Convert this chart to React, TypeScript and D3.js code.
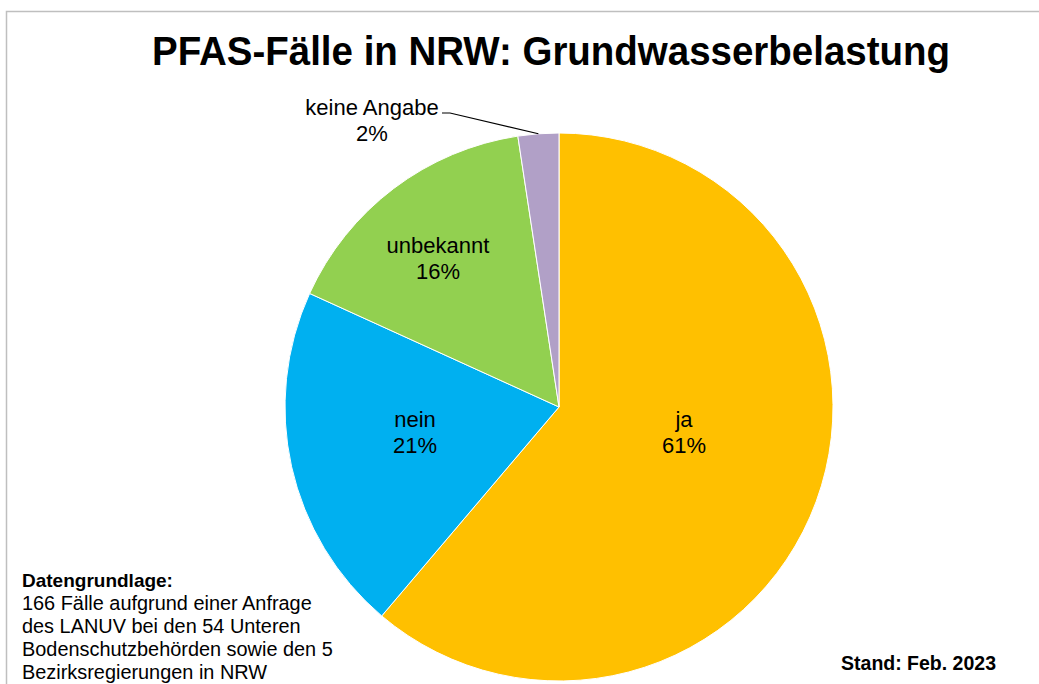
import React from "react";
import * as d3 from "d3";

const categories = ["ja", "nein", "unbekannt", "keine Angabe"];
const shareValues = [61.2, 20.6, 15.8, 2.4];
const percentLabels = ["61%", "21%", "16%", "2%"];
const sliceColors = ["#FFC000", "#00B0F0", "#92D050", "#B1A0C7"];
const titleText = "PFAS-Fälle in NRW: Grundwasserbelastung";
const noteTitle = "Datengrundlage:";
const noteLines = [
  "166 Fälle aufgrund einer Anfrage",
  "des LANUV bei den 54 Unteren",
  "Bodenschutzbehörden sowie den 5",
  "Bezirksregierungen in NRW",
];
const standText = "Stand: Feb. 2023";

const W = 1039;
const H = 684;
const cx = 559;
const cy = 407;
const R = 274;
const FONT = "Arial, 'Liberation Sans', Helvetica, sans-serif";

const labelPos: Record<string, [number, number]> = {
  ja: [684, 427],
  nein: [415, 427],
  unbekannt: [438, 253],
  "keine Angabe": [372, 115],
};

export default function App() {
  const data = categories.map((c, i) => ({
    cat: c,
    value: shareValues[i],
    label: percentLabels[i],
    color: sliceColors[i],
  }));
  const pie = d3.pie<any>().sort(null).value((d: any) => d.value);
  const arcs = pie(data);
  const arcGen = d3.arc<any>().innerRadius(0).outerRadius(R);

  const last = arcs[3];
  const midA = (last.startAngle + last.endAngle) / 2;
  const edgeX = cx + R * Math.sin(midA);
  const edgeY = cy - R * Math.cos(midA);

  return (
    <svg width={W} height={H} style={{ position: "absolute", left: 0, top: 0, background: "#fff" }}>
      <rect x={6.5} y={11.5} width={W + 20} height={H + 20} fill="#fff" stroke="#bfbfbf" strokeWidth={1.5} />
      <text
        x={551}
        y={65}
        textAnchor="middle"
        fontFamily={FONT}
        fontWeight="bold"
        fontSize={41}
        textLength={798}
        lengthAdjust="spacingAndGlyphs"
        fill="#000"
      >
        {titleText}
      </text>
      <g transform={`translate(${cx},${cy})`}>
        {arcs.map((a, i) => (
          <path key={i} d={arcGen(a) as string} fill={a.data.color} stroke="#fff" strokeWidth={1} />
        ))}
      </g>
      <polyline
        points={`442,113 450,113 ${edgeX},${edgeY}`}
        fill="none"
        stroke="#000"
        strokeWidth={1.2}
      />
      {arcs.map((a, i) => {
        const [lx, ly] = labelPos[a.data.cat];
        return (
          <text key={i} x={lx} y={ly} textAnchor="middle" fontFamily={FONT} fontSize={22} fill="#000">
            <tspan x={lx}>{a.data.cat}</tspan>
            <tspan x={lx} dy={26}>{a.data.label}</tspan>
          </text>
        );
      })}
      <text x={22} y={587} fontFamily={FONT} fontWeight="bold" fontSize={19} fill="#000">
        {noteTitle}
      </text>
      {noteLines.map((l, i) => (
        <text key={i} x={22} y={610 + i * 23} fontFamily={FONT} fontSize={19.9} fill="#000">
          {l}
        </text>
      ))}
      <text x={996} y={670} textAnchor="end" fontFamily={FONT} fontWeight="bold" fontSize={19.5} fill="#000">
        {standText}
      </text>
    </svg>
  );
}
